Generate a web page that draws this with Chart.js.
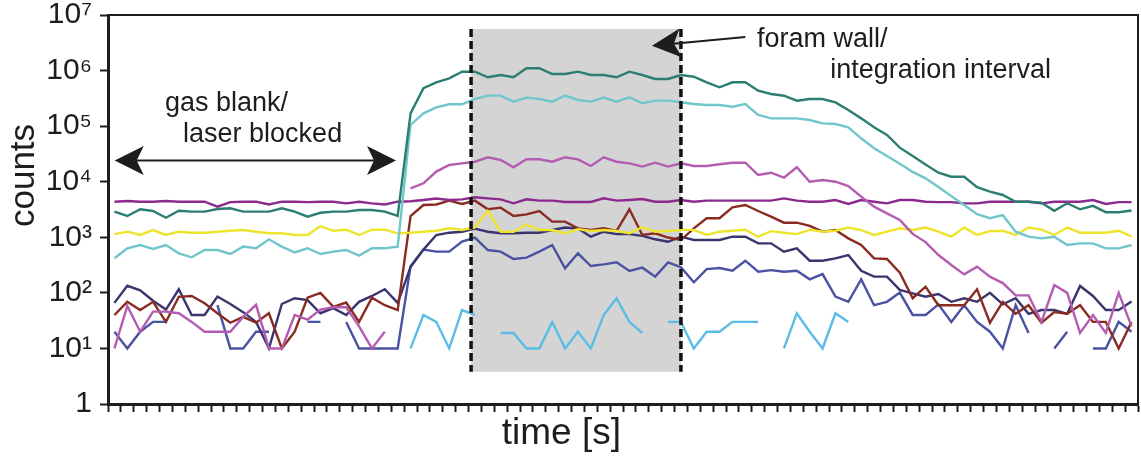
<!DOCTYPE html>
<html>
<head>
<meta charset="utf-8">
<script src="https://cdn.jsdelivr.net/npm/chart.js@4.4.1/dist/chart.umd.min.js"></script>
<style>
  html, body { margin: 0; padding: 0; background: #fff; }
</style>
</head>
<body>
<canvas id="countsChart" width="1141" height="456"></canvas>
<script>
// one category per time step (80 sweeps), no labels shown on the axis
const timeSteps = Array.from({length: 80}, (_, i) => i + 1);

const yTickValues = [1, 10, 100, 1000, 1e4, 1e5, 1e6, 1e7];
const yTickLabels = ['1', '10¹', '10²', '10³', '10⁴', '10⁵', '10⁶', '10⁷'];

// counts, null = gap (zero counts, can't go on log axis)
const darkTeal = [2890, 2420, 3190, 2970, 2250, 3010, 2890, 2890, 3230, 3320, 2890, 2890, 2890, 3320, 2890, 2350, 2760, 2890, 2890, 3100,
  3100, 2890, 2420, 170000, 480000, 615000, 726000, 955000, 955000, 757000, 833000, 757000, 1100000, 1100000, 867000, 867000, 955000, 833000, 833000, 757000,
  955000, 833000, 706000, 706000, 833000, 776000, 615000, 500000, 615000, 615000, 435000, 379000, 353000, 287000, 308000, 308000, 268000, 195000, 138000, 95300,
  69300, 41000, 29000, 20500, 14500, 12300, 12300, 8000, 6620, 5770, 4370, 4370, 4200, 3000, 4100, 3190, 3680, 2830, 2830, 3030];

const lightCyan = [419, 635, 727, 617, 727, 515, 436, 590, 590, 500, 680, 635, 920, 680, 533, 635, 500, 551, 590, 467,
  635, 635, 680, 105000, 170000, 218000, 247000, 247000, 308000, 354000, 354000, 276000, 326000, 308000, 276000, 354000, 296000, 276000, 326000, 276000,
  330000, 258000, 288000, 288000, 269000, 250000, 240000, 240000, 224000, 250000, 159000, 138000, 138000, 138000, 129000, 112000, 109000, 95300, 60400, 39900,
  29000, 21000, 15000, 11500, 8000, 5500, 3800, 2600, 2200, 2500, 1260, 1025, 957, 1025, 726, 778, 778, 632, 632, 726];

const pink = [10, 58, 20, 46, 46, 43, 30, 20, 20, 20, 37, 61, 10, 10, 40, 33, 50, 55, 55, 25,
  10, 20, null, 7600, 9360, 15200, 20000, 21400, 22900, 27500, 24600, 18200, 25300, 25300, 22900, 27500, 25300, 19200, 27500, 22900,
  21400, 18700, 22000, 18700, 21400, 19200, 19200, 20600, 22000, 22000, 13200, 14500, 11800, 18200, 10000, 10700, 10000, 8370, 5380, 3560,
  2700, 2050, 1150, 820, 480, 317, 215, 296, 196, 150, 90, 90, 30, 138, 100, 19, 40, 19, 100, 25];

const purple = [4370, 4500, 4370, 4370, 4500, 4370, 4370, 4370, 3560, 4300, 4370, 4370, 3900, 4370, 4370, 4300, 4370, 4370, 4080, 4370,
  4080, 3900, 4370, 4450, 4690, 5000, 4690, 4820, 5240, 5020, 4820, 4080, 4820, 4560, 4560, 4320, 4320, 4320, 5020, 4560,
  4690, 4880, 4370, 4370, 4690, 4370, 4560, 4560, 4560, 4560, 4560, 4560, 5020, 4560, 4370, 4370, 4690, 3970, 4690, 4370,
  4080, 4690, 4690, 4370, 4300, 4300, 4080, 4080, 4370, 4370, 4370, 4370, 4080, 4370, 4370, 4370, 4690, 3970, 4300, 4300];

const yellow = [1140, 1260, 1100, 1350, 1100, 1260, 1210, 1210, 1260, 1310, 1350, 1260, 1180, 1180, 1100, 1100, 1590, 1310, 1370, 1100,
  1370, 1370, 1180, 1210, 1260, 1310, 1450, 1350, 1500, 3000, 1260, 1260, 1700, 1350, 1350, 1180, 1400, 1300, 1350, 1300,
  1180, 1520, 1260, 1300, 1360, 1360, 1100, 1260, 1310, 1370, 1025, 1290, 1210, 1140, 1370, 1260, 1310, 1500, 1350, 1100,
  1260, 1450, 1350, 1500, 1260, 1025, 1500, 1100, 1290, 1310, 1100, 1500, 1370, 1100, 1500, 1210, 1210, 1210, 1310, 1025];

const darkRed = [40, 69, 49, 69, 30, 85, 88, 65, 43, 29, 37, 29, 43, 10, 20, 82, 100, 56, 67, 30,
  82, 60, 49, 2400, 3810, 3900, 4560, 3970, 4560, 3190, 3410, 2420, 2590, 2970, 1910, 1910, 1450, 1350, 1450, 1300,
  3190, 1100, 1180, 990, 893, 1450, 2200, 2200, 3460, 3810, 2970, 2350, 1830, 1830, 1600, 1260, 1350, 957, 726, 418,
  406, 230, 80, 129, 60, 60, 60, 116, 29, 69, 42, 60, 29, 45, 42, 60, 30, 30, 10, 30];

const navy = [66, 134, 111, 72, 50, 116, 40, 40, 86, 63, 45, 30, 10, 63, 80, 74, 43, 53, 40, 69,
  88, 116, 66, 290, 600, 1100, 1210, 1260, 1430, 1260, 1180, 1180, 1210, 1210, 1350, 1500, 1440, 1025, 1260, 1140,
  1140, 1060, 920, 830, 1025, 893, 893, 893, 1025, 1025, 778, 778, 551, 632, 379, 379, 418, 480, 250, 196,
  196, 113, 98, 85, 95, 69, 80, 69, 100, 62, 80, 42, 49, 49, 42, 133, 88, 49, 49, 70];

const mediumBlue = [20, 10, 20, 30, 30, null, null, null, 60, 10, 10, 20, 20, null, null, 30, 30, null, 30, 10,
  10, 10, 10, 300, 600, 551, 551, 834, 985, 590, 551, 406, 430, 551, 726, 276, 515, 304, 326, 354,
  247, 284, 196, 354, 290, 155, 267, 280, 250, 379, 240, 256, 240, 250, 175, 218, 86, 69, 175, 60,
  69, 101, 40, 40, 62, 30, 60, 30, 20, 10, 60, 19, null, 10, 20, null, 10, 10, 30, 20];

const skyBlue = [null, null, null, null, null, null, null, null, null, null, null, null, null, null, null, null, null, null, null, null,
  null, null, null, 10, 40, 30, 10, 49, 40, null, 19, 19, 10, 10, 30, 10, 20, 10, 40, 80,
  30, 19, null, 30, 30, 10, 20, 20, 30, 30, 30, null, 10, 43, 20, 10, 43, 30, null, null,
  null, null, null, null, null, null, null, null, null, null, null, null, null, null, null, null, null, null, null, null];

// annotation anchors in data units (category index, counts)
const shadeFrom = 27.7, shadeTo = 44.0, shadeTop = 5.6e6, shadeBottom = 3.8;
const blankArrow = {from: 0.02, to: 21.87, at: 24000};
const wallArrow = {tailX: 49.0, tailY: 4.0e6, tipX: 41.75, tipY: 2.8e6};
const notes = [
  {text: 'gas blank/', x: 3.93, y: 2.5e5},
  {text: 'laser blocked', x: 5.33, y: 7.2e4},
  {text: 'foram wall/', x: 49.9, y: 3.55e6},
  {text: 'integration interval', x: 55.6, y: 1.02e6}
];

const font = '"Liberation Sans", Arial, sans-serif';
const ink = '#1d1d1b';

function arrowHead(ctx, tipX, tipY, fromX, fromY) {
  const a = Math.atan2(tipY - fromY, tipX - fromX);
  ctx.save();
  ctx.translate(tipX, tipY);
  ctx.rotate(a);
  ctx.beginPath();
  ctx.moveTo(0, 0);
  ctx.lineTo(-29, -14.5);
  ctx.lineTo(-22, 0);
  ctx.lineTo(-29, 14.5);
  ctx.closePath();
  ctx.fill();
  ctx.restore();
}

const decorations = {
  id: 'decorations',
  beforeDatasetsDraw(chart) {
    const {ctx, scales: {x, y}} = chart;
    ctx.save();
    ctx.fillStyle = '#d4d4d4';
    const l = x.getPixelForValue(shadeFrom), r = x.getPixelForValue(shadeTo);
    const t = y.getPixelForValue(shadeTop), b = y.getPixelForValue(shadeBottom);
    ctx.fillRect(l, t, r - l, b - t);
    ctx.restore();
  },
  afterDatasetsDraw(chart) {
    const {ctx, chartArea: ca, scales: {x, y}} = chart;
    ctx.save();
    // dashed edges of the integration window
    ctx.strokeStyle = '#111';
    ctx.lineWidth = 3.5;
    ctx.setLineDash([8, 4]);
    [shadeFrom, shadeTo].forEach(v => {
      const px = x.getPixelForValue(v);
      ctx.beginPath();
      ctx.moveTo(px, y.getPixelForValue(shadeTop));
      ctx.lineTo(px, y.getPixelForValue(shadeBottom));
      ctx.stroke();
    });
    ctx.setLineDash([]);

    // top and right frame
    ctx.strokeStyle = ink;
    ctx.lineWidth = 2;
    ctx.beginPath();
    ctx.moveTo(ca.left, ca.top);
    ctx.lineTo(ca.right, ca.top);
    ctx.lineTo(ca.right, ca.bottom);
    ctx.stroke();

    // arrows
    ctx.fillStyle = ink;
    ctx.lineWidth = 2;
    const ay = y.getPixelForValue(blankArrow.at);
    const ax1 = x.getPixelForValue(blankArrow.from), ax2 = x.getPixelForValue(blankArrow.to);
    ctx.beginPath();
    ctx.moveTo(ax1 + 20, ay);
    ctx.lineTo(ax2 - 20, ay);
    ctx.stroke();
    arrowHead(ctx, ax1, ay, ax2, ay);
    arrowHead(ctx, ax2, ay, ax1, ay);

    const tx = x.getPixelForValue(wallArrow.tailX), ty = y.getPixelForValue(wallArrow.tailY);
    const hx = x.getPixelForValue(wallArrow.tipX), hy = y.getPixelForValue(wallArrow.tipY);
    ctx.beginPath();
    ctx.moveTo(tx, ty);
    ctx.lineTo(hx + (tx - hx) * 0.2, hy + (ty - hy) * 0.2);
    ctx.stroke();
    arrowHead(ctx, hx, hy, tx, ty);

    // text notes
    ctx.font = '27px ' + font;
    ctx.textAlign = 'left';
    ctx.textBaseline = 'middle';
    notes.forEach(n => ctx.fillText(n.text, x.getPixelForValue(n.x), y.getPixelForValue(n.y)));
    ctx.restore();
  }
};

function line(label, data, color) {
  return {label, data, borderColor: color, borderWidth: 2.4, pointRadius: 0, tension: 0, spanGaps: false};
}

new Chart(document.getElementById('countsChart'), {
  type: 'line',
  data: {
    labels: timeSteps,
    datasets: [
      line('dark teal', darkTeal, '#2b7e71'),
      line('light cyan', lightCyan, '#70c6cb'),
      line('pink', pink, '#b35cb1'),
      line('purple', purple, '#8b2a8c'),
      line('yellow', yellow, '#efe42c'),
      line('dark red', darkRed, '#8a2b22'),
      line('navy', navy, '#3a346f'),
      line('medium blue', mediumBlue, '#4a52a2'),
      line('sky blue', skyBlue, '#5bbde6')
    ]
  },
  options: {
    responsive: false,
    animation: false,
    layout: {padding: {left: 0, right: 3, top: 15, bottom: 0}},
    plugins: {legend: {display: false}, tooltip: {enabled: false}},
    scales: {
      x: {
        type: 'category',
        offset: true,
        afterFit: (axis) => { axis.height = 52; },
        grid: {drawOnChartArea: false, drawTicks: true, tickLength: 8, tickWidth: 2, tickColor: ink, offset: true},
        border: {display: true, color: ink, width: 3},
        ticks: {display: false, autoSkip: false},
        title: {
          display: true,
          text: 'time [s]' + '\u00a0'.repeat(12),
          color: ink,
          font: {family: font, size: 37},
          padding: {top: 0, bottom: 0}
        }
      },
      y: {
        type: 'logarithmic',
        min: 1,
        max: 1e7,
        afterFit: (axis) => { axis.width = 108; axis.paddingTop = 0; axis.paddingBottom = 0; },
        afterBuildTicks: (axis) => { axis.ticks = yTickValues.map(v => ({value: v})); },
        grid: {drawOnChartArea: false, drawTicks: true, tickLength: 8, tickWidth: 2, tickColor: ink},
        border: {display: true, color: ink, width: 3},
        ticks: {
          color: ink,
          padding: 8,
          font: {family: font, size: 30, lineHeight: 1},
          callback: (value) => yTickLabels[yTickValues.indexOf(value)]
        },
        title: {
          display: true,
          text: '\u00a0'.repeat(7) + 'counts',
          color: ink,
          font: {family: font, size: 35},
          padding: {top: 3, bottom: 0}
        }
      }
    }
  },
  plugins: [decorations]
});
</script>
</body>
</html>
